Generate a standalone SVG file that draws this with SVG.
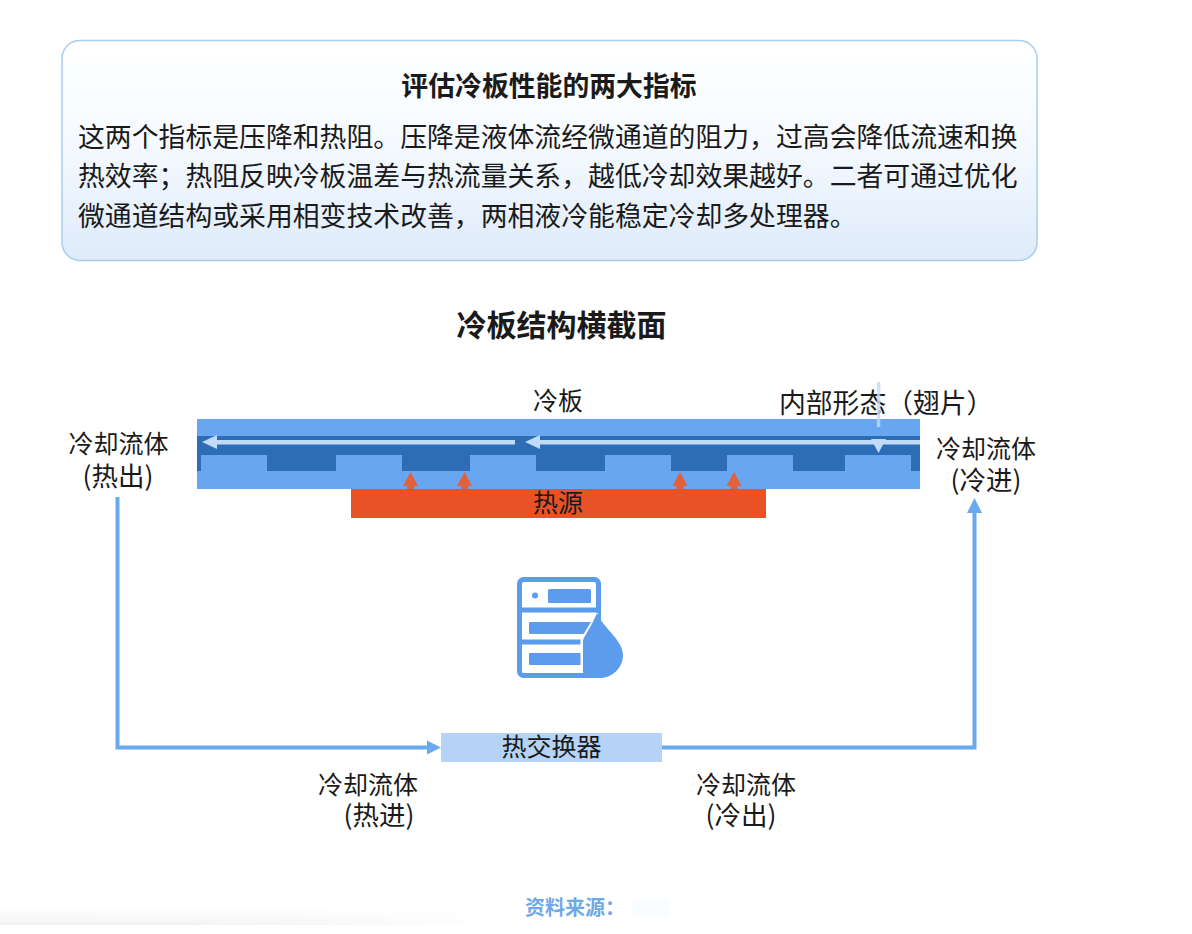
<svg xmlns="http://www.w3.org/2000/svg" width="1192" height="934" viewBox="0 0 1192 934">
<style>
text{font-family:"Noto Sans CJK SC","Liberation Sans",sans-serif;fill:#1a1a1a}
.b{font-size:26.85px}
.l{font-size:25px}
.pl{font-size:26.500px}
.t{font-weight:700;text-anchor:middle}
.m{text-anchor:middle}
.p{fill:#68a6f2}
.d{fill:#2c6db5}
.fl{fill:#bfdbf7}
.h{fill:#e2603a}
.loop{fill:none;stroke:#68a9f0;stroke-width:4}
</style>
<defs>
<linearGradient id="card" x1="0" y1="0" x2="0" y2="1"><stop offset="0" stop-color="#ffffff"/><stop offset="0.45" stop-color="#f6faff"/><stop offset="1" stop-color="#deebfa"/></linearGradient>
<linearGradient id="shade" x1="0" y1="0" x2="0" y2="1"><stop offset="0" stop-color="#fff"/><stop offset="1" stop-color="#f2f2f2"/></linearGradient>
<linearGradient id="fade" x1="0" y1="0" x2="1" y2="0"><stop offset="0" stop-color="#fff" stop-opacity="0"/><stop offset="0.55" stop-color="#fff" stop-opacity="0.2"/><stop offset="1" stop-color="#fff" stop-opacity="1"/></linearGradient>
</defs>
<rect width="1192" height="934" fill="#fff"/>
<rect x="0" y="908" width="500" height="17" fill="url(#shade)"/>
<rect x="0" y="908" width="500" height="17" fill="url(#fade)"/>

<g id="info-card">
<rect x="62" y="40.500" width="975" height="220" rx="18" fill="url(#card)" stroke="#a9cdf0" stroke-width="1.500"/>
<text class="b t" x="549" y="96">评估冷板性能的两大指标</text>
<text class="b" x="78" y="147">这两个指标是压降和热阻。压降是液体流经微通道的阻力，过高会降低流速和换</text>
<text class="b" x="78" y="186">热效率；热阻反映冷板温差与热流量关系，越低冷却效果越好。二者可通过优化</text>
<text class="b" x="78" y="226">微通道结构或采用相变技术改善，两相液冷能稳定冷却多处理器。</text>
</g>
<text id="section-title" x="561.500" y="336" font-size="30" class="t">冷板结构横截面</text>

<g id="cold-plate">
<rect class="p" x="197" y="419" width="723" height="70"/>
<rect class="d" x="197" y="436" width="723" height="35"/>
<rect class="p" x="201" y="455" width="66" height="16"/>
<rect class="p" x="336" y="455" width="66" height="16"/>
<rect class="p" x="470" y="455" width="66" height="16"/>
<rect class="p" x="605" y="455" width="66" height="16"/>
<rect class="p" x="727" y="455" width="66" height="16"/>
<rect class="p" x="845" y="455" width="66" height="16"/>
<text class="l m" x="558" y="410">冷板</text>
<text x="779" y="413" font-size="26.800">内部形态（翅片）</text>
</g>

<g id="heat-source">
<rect x="351" y="489" width="415" height="29" fill="#e85226"/>
<text class="l m" x="558" y="512">热源</text>
</g>

<g id="connectors">
<g class="fl">
<rect x="212" y="440" width="303" height="4.500"/>
<path d="M202 442 217 435V449Z"/>
<rect x="535" y="440" width="385" height="4.500"/>
<path d="M525 442 540 435V449Z"/>
<rect x="876.800" y="382" width="3.500" height="45" opacity=".8"/>
<path d="M871 439H886L878.500 453Z"/>
</g>
<g class="h">
<path d="M410.500 472 418 486H414V489H407V486H403Z"/>
<path d="M464.500 472 472 486H468V489H461V486H457Z"/>
<path d="M680 472 687.500 486H683.500V489H676.500V486H672.500Z"/>
<path d="M734 472 741.500 486H737.500V489H730.500V486H726.500Z"/>
</g>
<path class="loop" d="M117.500 497V747.500H430"/>
<path d="M441 747.500 427 740.500V754.500Z" fill="#68a9f0"/>
<path class="loop" d="M662 747.500H974.500V510"/>
<path d="M974.500 498 967 513H982Z" fill="#68a9f0"/>
</g>

<g id="heat-exchanger">
<rect x="441" y="733" width="221" height="29" fill="#b5d3f6"/>
<text class="l m" x="551.500" y="756">热交换器</text>
</g>

<g id="server-icon">
<rect x="519.500" y="579.500" width="79" height="96" rx="4" fill="#fff" stroke="#5b9cec" stroke-width="5"/>
<path d="M519 610H599M519 642H599" stroke="#5b9cec" stroke-width="5"/>
<circle cx="535" cy="595.500" r="3" fill="#5b9cec"/>
<rect x="548" y="589" width="43" height="14" rx="1.500" fill="#5b9cec"/>
<rect x="529" y="622" width="63" height="12" rx="1" fill="#5b9cec"/>
<rect x="529" y="653" width="60" height="12" rx="1" fill="#5b9cec"/>
<path d="M597 613C592 625 586 632 582 640V672" fill="none" stroke="#fff" stroke-width="3"/>
<path d="M597 613C603 628 623 640 623 655 623 668 612 678 600 678H586L583 672V640C587 632 592 625 597 613Z" fill="#5b9cec"/>
</g>

<g id="labels">
<text class="l m" x="118.500" y="453">冷却流体</text>
<text class="pl m" x="118" y="486">(热出)</text>
<text class="l m" x="986" y="458">冷却流体</text>
<text class="pl m" x="986" y="490">(冷进)</text>
<text class="l m" x="368" y="794">冷却流体</text>
<text class="pl m" x="379" y="825">(热进)</text>
<text class="l m" x="746" y="794">冷却流体</text>
<text class="pl m" x="741" y="825">(冷出)</text>
</g>

<g id="footer">
<text x="525" y="915" font-size="20" font-weight="700" style="fill:#6fa8e6">资料来源：</text>
<rect x="632" y="899" width="38" height="18" fill="#f6fbff" opacity=".5"/>
</g>
</svg>
